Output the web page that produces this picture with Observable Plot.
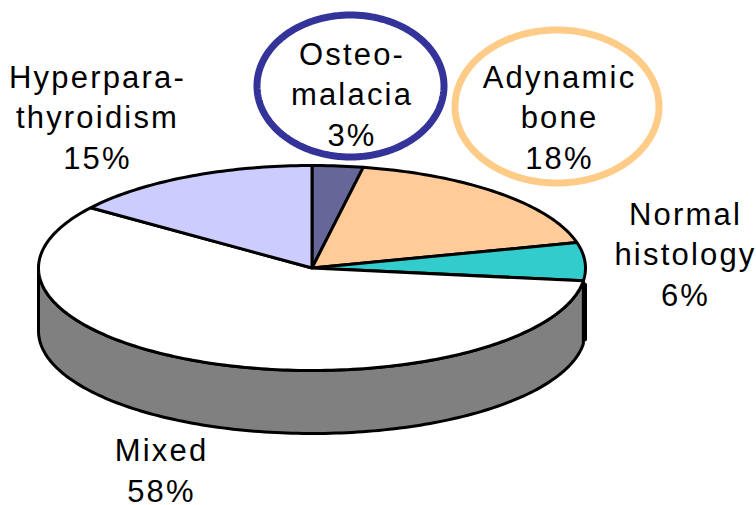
<!DOCTYPE html>
<html>
<head>
<meta charset="utf-8">
<script src="https://cdn.jsdelivr.net/npm/d3@7"></script>
<script src="https://cdn.jsdelivr.net/npm/@observablehq/plot@0.6"></script>
<style>
html,body{margin:0;padding:0;background:#fff}
svg{display:block;background:#fff}
</style>
</head>
<body>
<div id="chart"></div>
<script>
// Data, clockwise from twelve o'clock
const names = ["Osteomalacia", "Adynamic bone", "Normal histology", "Mixed", "Hyperparathyroidism"];
const labels = ["Osteo-\nmalacia", "Adynamic\nbone", "Normal\nhistology", "Mixed", "Hyperpara-\nthyroidism"];
const percents = [3, 18, 6, 58, 15];
const circled = ["Osteomalacia", "Adynamic bone"];

// Styling and layout, kept apart from the data
const sliceColors = ["#666699", "#FFCC99", "#33CCCC", "#FFFFFF", "#CCCCFF"];
const ringColors = ["#333399", "#FFCC88"];
const sideColor = "#808080";
const pie = {cx: 311.5, cy: 267.5, rx: 273.5, ry: 102.5, depth: 63};
const labelX = [351.5, 559, 685, 161, 97];
const labelBottom = [145, 168, 305, 501, 168];
const ringGeometry = [
  {cx: 350, cy: 85.5, rx: 93.5, ry: 71},
  {cx: 556.5, cy: 106, rx: 102, ry: 76.5}
];
const fontSize = 31, lineStep = 40.5;

// Parametric angle -> point on the flattened disc
const onRim = (a, dy = 0) => ({x: pie.cx + pie.rx * Math.sin(a), y: pie.cy - pie.ry * Math.cos(a) + dy});
const arcPoints = (a0, a1, dy = 0) => {
  const n = Math.max(2, Math.ceil(Math.abs(a1 - a0) / 0.02));
  return d3.range(n + 1).map(i => onRim(a0 + (a1 - a0) * i / n, dy));
};

const total = d3.sum(percents);
let cumulative = 0;
const sliceAngles = percents.map(v => {
  const a0 = cumulative / total * 2 * Math.PI;
  cumulative += v;
  return [a0, cumulative / total * 2 * Math.PI];
});

const slicePoints = names.flatMap((name, i) =>
  [{x: pie.cx, y: pie.cy}, ...arcPoints(...sliceAngles[i])].map(p => ({...p, name}))
);

// Visible wall below the front of the Mixed slice, down to the left extreme
const mixedStart = sliceAngles[names.indexOf("Mixed")][0];
const sidePoints = [
  ...arcPoints(mixedStart, 1.5 * Math.PI),
  ...arcPoints(1.5 * Math.PI, mixedStart, pie.depth)
];
const rightEdge = [
  {x: pie.cx + pie.rx - 1, y: pie.cy + 17},
  {x: pie.cx + pie.rx - 1, y: pie.cy + 71}
];

const ringPoints = circled.flatMap((name, i) => {
  const g = ringGeometry[i];
  return d3.range(0, 2 * Math.PI, 0.02).map(a => ({
    x: g.cx + g.rx * Math.cos(a), y: g.cy + g.ry * Math.sin(a), name
  }));
});

const labelRows = names.map((name, i) => ({
  text: `${labels[i]}\n${percents[i]}%`,
  x: labelX[i],
  y: labelBottom[i]
}));

const plot = Plot.plot({
  width: 756, height: 505,
  margin: 0,
  x: {domain: [0, 756], range: [0, 756], axis: null},
  y: {domain: [0, 505], range: [0, 505], axis: null},
  color: {domain: names, range: sliceColors},
  style: {background: "#fff"},
  marks: [
    Plot.line(sidePoints, {x: "x", y: "y", fill: sideColor, stroke: "#000", strokeWidth: 3, curve: "linear-closed", strokeLinejoin: "round"}),
    Plot.line(rightEdge, {x: "x", y: "y", stroke: "#000", strokeWidth: 5}),
    Plot.line(slicePoints, {x: "x", y: "y", z: "name", fill: "name", stroke: "#000", strokeWidth: 3, curve: "linear-closed", strokeLinejoin: "round"}),
    ...circled.map((name, i) =>
      Plot.line(ringPoints.filter(d => d.name === name), {x: "x", y: "y", stroke: ringColors[i], strokeWidth: 7, curve: "linear-closed"})
    ),
    Plot.text(labelRows, {
      x: "x", y: "y", text: "text",
      lineAnchor: "bottom",
      lineHeight: lineStep / fontSize,
      fontSize,
      fontFamily: "'Liberation Sans', Arial, sans-serif",
      fill: "#000",
      textAnchor: "middle"
    })
  ]
});
plot.querySelectorAll("text").forEach(t => { t.style.letterSpacing = "2.2px"; });
document.getElementById("chart").append(plot);
</script>
</body>
</html>
